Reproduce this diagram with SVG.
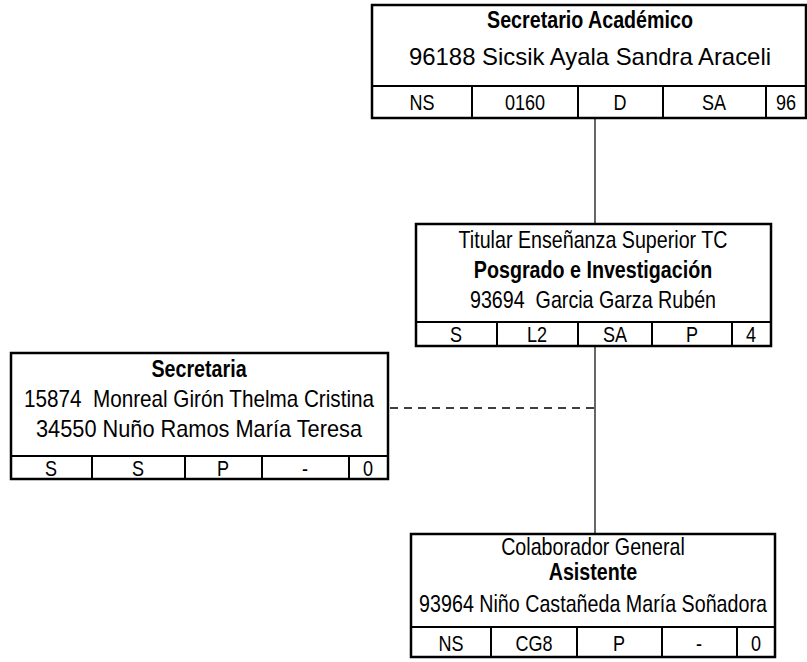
<svg xmlns="http://www.w3.org/2000/svg" width="807" height="662" viewBox="0 0 807 662">
<style>
.box{fill:#fff;stroke:#000;stroke-width:2.5}
.ln{stroke:#000;stroke-width:2;fill:none}
.conn{stroke:#000;stroke-width:1.2;fill:none}
.dash{stroke:#000;stroke-width:1.6;fill:none;stroke-dasharray:8 6}
text{font-family:"Liberation Sans",Arial,sans-serif;font-size:24px;fill:#000;text-anchor:middle;white-space:pre}
.b{font-weight:bold}
.c{font-size:22px}
</style>
<rect width="807" height="662" fill="#fff"/>
<g id="connectors">
<line class="conn" x1="595" y1="118" x2="595" y2="224"/>
<line class="conn" x1="595" y1="346" x2="595" y2="534"/>
<line class="dash" x1="390" y1="408" x2="595" y2="408"/>
</g>
<g id="secretario-academico">
<rect class="box" x="372" y="5" width="434" height="113"/>
<line class="ln" x1="372" y1="86" x2="806" y2="86"/>
<line class="ln" x1="472" y1="86" x2="472" y2="118"/>
<line class="ln" x1="578" y1="86" x2="578" y2="118"/>
<line class="ln" x1="663" y1="86" x2="663" y2="118"/>
<line class="ln" x1="766" y1="86" x2="766" y2="118"/>
<text class="b" transform="translate(590 28) scale(0.82 1)">Secretario Académico</text>
<text x="590" y="65" textLength="362" lengthAdjust="spacingAndGlyphs">96188 Sicsik Ayala Sandra Araceli</text>
<text class="c" transform="translate(422 110) scale(0.82 1)">NS</text>
<text class="c" transform="translate(525 110) scale(0.82 1)">0160</text>
<text class="c" transform="translate(620 110) scale(0.82 1)">D</text>
<text class="c" transform="translate(714 110) scale(0.82 1)">SA</text>
<text class="c" transform="translate(786 110) scale(0.82 1)">96</text>
</g>
<g id="titular">
<rect class="box" x="416" y="224" width="355" height="122"/>
<line class="ln" x1="416" y1="322" x2="771" y2="322"/>
<line class="ln" x1="497" y1="322" x2="497" y2="346"/>
<line class="ln" x1="578" y1="322" x2="578" y2="346"/>
<line class="ln" x1="652" y1="322" x2="652" y2="346"/>
<line class="ln" x1="732" y1="322" x2="732" y2="346"/>
<text transform="translate(593 248) scale(0.82 1)">Titular Enseñanza Superior TC</text>
<text class="b" transform="translate(593 278) scale(0.82 1)">Posgrado e Investigación</text>
<text transform="translate(593 308) scale(0.82 1)">93694  Garcia Garza Rubén</text>
<text class="c" transform="translate(456 342) scale(0.82 1)">S</text>
<text class="c" transform="translate(537 342) scale(0.82 1)">L2</text>
<text class="c" transform="translate(615 342) scale(0.82 1)">SA</text>
<text class="c" transform="translate(692 342) scale(0.82 1)">P</text>
<text class="c" transform="translate(751 342) scale(0.82 1)">4</text>
</g>
<g id="secretaria">
<rect class="box" x="11" y="353" width="377" height="126"/>
<line class="ln" x1="11" y1="456" x2="388" y2="456"/>
<line class="ln" x1="92" y1="456" x2="92" y2="479"/>
<line class="ln" x1="185" y1="456" x2="185" y2="479"/>
<line class="ln" x1="262" y1="456" x2="262" y2="479"/>
<line class="ln" x1="349" y1="456" x2="349" y2="479"/>
<text class="b" transform="translate(199 377) scale(0.82 1)">Secretaria</text>
<text x="199" y="407" textLength="350" lengthAdjust="spacingAndGlyphs">15874  Monreal Girón Thelma Cristina</text>
<text x="199" y="437" textLength="326" lengthAdjust="spacingAndGlyphs">34550 Nuño Ramos María Teresa</text>
<text class="c" transform="translate(51 476) scale(0.82 1)">S</text>
<text class="c" transform="translate(138 476) scale(0.82 1)">S</text>
<text class="c" transform="translate(223 476) scale(0.82 1)">P</text>
<text class="c" transform="translate(305 476) scale(0.82 1)">-</text>
<text class="c" transform="translate(368 476) scale(0.82 1)">0</text>
</g>
<g id="asistente">
<rect class="box" x="411" y="534" width="364" height="123"/>
<line class="ln" x1="411" y1="627" x2="775" y2="627"/>
<line class="ln" x1="491" y1="627" x2="491" y2="657"/>
<line class="ln" x1="577" y1="627" x2="577" y2="657"/>
<line class="ln" x1="662" y1="627" x2="662" y2="657"/>
<line class="ln" x1="737" y1="627" x2="737" y2="657"/>
<text transform="translate(593 555) scale(0.82 1)">Colaborador General</text>
<text class="b" transform="translate(593 580) scale(0.82 1)">Asistente</text>
<text transform="translate(593 612) scale(0.82 1)">93964 Niño Castañeda María Soñadora</text>
<text class="c" transform="translate(451 651) scale(0.82 1)">NS</text>
<text class="c" transform="translate(534 651) scale(0.82 1)">CG8</text>
<text class="c" transform="translate(619 651) scale(0.82 1)">P</text>
<text class="c" transform="translate(699 651) scale(0.82 1)">-</text>
<text class="c" transform="translate(756 651) scale(0.82 1)">0</text>
</g>
</svg>
